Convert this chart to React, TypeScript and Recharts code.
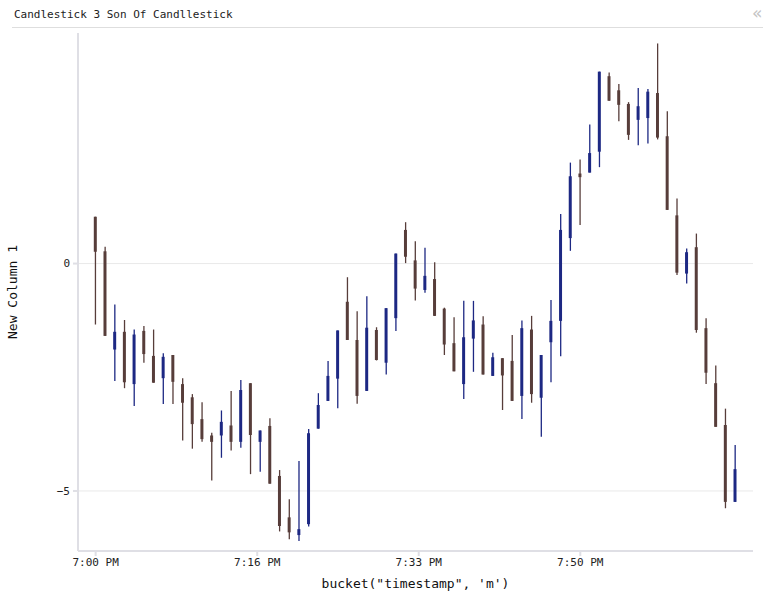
import { Bar, CartesianGrid, Cell, ComposedChart, XAxis, YAxis } from "recharts";

const opens = [
  1.03, 0.27, -1.89, -1.5, -2.65, -1.48, -2.03, -2.52, -2.01, -2.65, -2.94, -3.42, -3.78, -3.78, -3.56, -3.92, -2.63,
  -3.92, -3.57, -4.67, -5.58, -5.97, -5.73, -3.63, -3.02, -2.53, -0.84, -1.68, -2.8, -1.46, -2.18, -1.2, 0.74, 0.07,
  -0.58, -0.34, -0.99, -1.75, -2.65, -1.65, -1.34, -2.47, -2.08, -2.14, -2.91, -1.45, -2.95, -1.73, -1.26, 0.56, 1.98,
  2.0, 2.46, 4.12, 3.81, 3.51, 3.16, 3.2, 3.75, 2.8, 1.06, -0.22, 0.36, -1.42, -2.63, -3.55, -5.24,
];
const closes = [
  0.26, -1.59, -1.5, -2.61, -1.56, -1.99, -2.62, -2.05, -2.6, -3.06, -3.53, -3.86, -3.92, -3.48, -3.92, -2.78, -3.77,
  -3.67, -4.84, -5.77, -5.91, -5.84, -3.73, -3.11, -2.47, -1.47, -1.68, -2.91, -1.41, -2.12, -0.98, 0.22, 0.15, -0.55,
  -0.27, -1.15, -1.78, -2.37, -1.62, -1.25, -2.44, -2.06, -2.46, -3.02, -1.42, -2.87, -2.01, -1.26, 0.74, 1.92, 1.9,
  2.43, 4.22, 3.58, 3.49, 2.83, 3.46, 3.78, 2.77, 1.18, -0.2, 0.25, -1.46, -2.4, -3.59, -5.24, -4.52,
];
const highs = [
  1.03, 0.37, -0.9, -1.24, -1.45, -1.37, -1.45, -1.97, -2.01, -2.52, -2.87, -3.05, -3.72, -3.23, -2.8, -2.56, -2.63,
  -3.67, -3.4, -4.54, -5.18, -4.34, -3.64, -2.85, -2.14, -1.47, -0.3, -1.05, -0.72, -1.4, -0.98, 0.22, 0.91, 0.49,
  0.35, 0.03, -0.97, -1.18, -0.82, -0.82, -1.16, -1.96, -2.08, -1.57, -1.25, -1.15, -2.01, -0.8, 1.09, 2.22, 2.29,
  3.06, 4.22, 4.2, 3.95, 3.55, 3.86, 3.84, 4.84, 3.35, 1.43, 0.33, 0.66, -1.2, -2.24, -3.19, -3.99,
];
const lows = [
  -1.34, -1.59, -2.58, -2.74, -3.13, -2.18, -2.62, -3.09, -3.09, -3.89, -4.07, -3.92, -4.77, -4.27, -4.11, -4.05, -4.63,
  -4.58, -4.84, -5.89, -6.06, -6.1, -5.78, -3.63, -3.02, -3.18, -1.68, -3.08, -2.8, -2.13, -2.44, -1.48, 0.01, -0.81,
  -0.64, -1.15, -2.01, -2.37, -2.98, -2.38, -2.44, -2.47, -3.22, -3.02, -3.42, -3.06, -3.81, -2.61, -2.04, 0.28, 0.85,
  2.0, 2.12, 3.58, 3.13, 2.72, 2.6, 2.64, 2.73, 1.18, -0.25, -0.44, -1.52, -2.65, -3.59, -5.38, -5.24,
];
const timeTicks = [0, 16.67, 33.33, 50];
const timeLabels = ["7:00 PM", "7:16 PM", "7:33 PM", "7:50 PM"];
const valueTicks = [-5, 0];

const UP = "#1d2883";
const DOWN = "#573d3a";
const MONO = "'DejaVu Sans Mono', monospace";
const X_DOMAIN = [-1.82, 67.82];

const rows = opens.map((open, i) => ({
  minute: i,
  wick: [lows[i], highs[i]],
  body: [open, closes[i]],
  up: closes[i] >= open,
}));

const tickStyle = { fontFamily: MONO, fontSize: 11, fill: "#222" };
const labelStyle = { fontFamily: MONO, fontSize: 13, fill: "#111" };

export default function App() {
  return (
    <div style={{ position: "absolute", left: 0, top: 0, width: 776, height: 600, background: "#fff", overflow: "hidden" }}>
      <div style={{ position: "absolute", left: 14, top: 8, fontFamily: MONO, fontSize: 11, lineHeight: "14px", color: "#222" }}>
        Candlestick 3 Son Of Candllestick
      </div>
      <div style={{ position: "absolute", left: 752, top: 3, fontFamily: "'DejaVu Sans', sans-serif", fontSize: 17, lineHeight: "20px", color: "#c4c4c4" }}>
        «
      </div>
      <div style={{ position: "absolute", left: 12, top: 27, width: 751, height: 1, background: "#dedede" }} />
      <div style={{ position: "absolute", left: 0, top: 0 }}>
        <ComposedChart width={776} height={600} data={rows} margin={{ top: 33, right: 23, bottom: 0, left: 0 }}>
          <CartesianGrid xAxisId="time" vertical={false} horizontalValues={valueTicks} stroke="#e9e9e9" />
          <XAxis
            xAxisId="time"
            dataKey="minute"
            type="number"
            domain={X_DOMAIN}
            ticks={timeTicks}
            interval={0}
            tickFormatter={(_v, i) => timeLabels[i]}
            height={49}
            tick={tickStyle}
            tickSize={5}
            tickMargin={2}
            stroke="#dfdfe5"
            strokeWidth={2}
            label={{ value: "bucket(\"timestamp\", 'm')", position: "insideBottom", offset: 12, style: labelStyle }}
          />
          <XAxis xAxisId="body" orientation="top" height={0} dataKey="minute" type="number" domain={X_DOMAIN} hide />
          <YAxis
            width={78}
            type="number"
            domain={[-6.32, 5.07]}
            ticks={valueTicks}
            interval={0}
            tickFormatter={(v) => String(v).replace("-", "\u2212")}
            tick={tickStyle}
            tickSize={5}
            tickMargin={3}
            stroke="#dfdfe5"
            strokeWidth={2}
            label={{ value: "New Column 1", angle: -90, position: "insideLeft", offset: 12, textAnchor: "middle", style: labelStyle }}
          />
          <Bar xAxisId="time" dataKey="wick" barSize={1.3} isAnimationActive={false}>
            {rows.map((r) => (
              <Cell key={r.minute} fill={r.up ? UP : DOWN} />
            ))}
          </Bar>
          <Bar xAxisId="body" dataKey="body" barSize={3} isAnimationActive={false}>
            {rows.map((r) => (
              <Cell key={r.minute} fill={r.up ? UP : DOWN} />
            ))}
          </Bar>
        </ComposedChart>
      </div>
    </div>
  );
}
